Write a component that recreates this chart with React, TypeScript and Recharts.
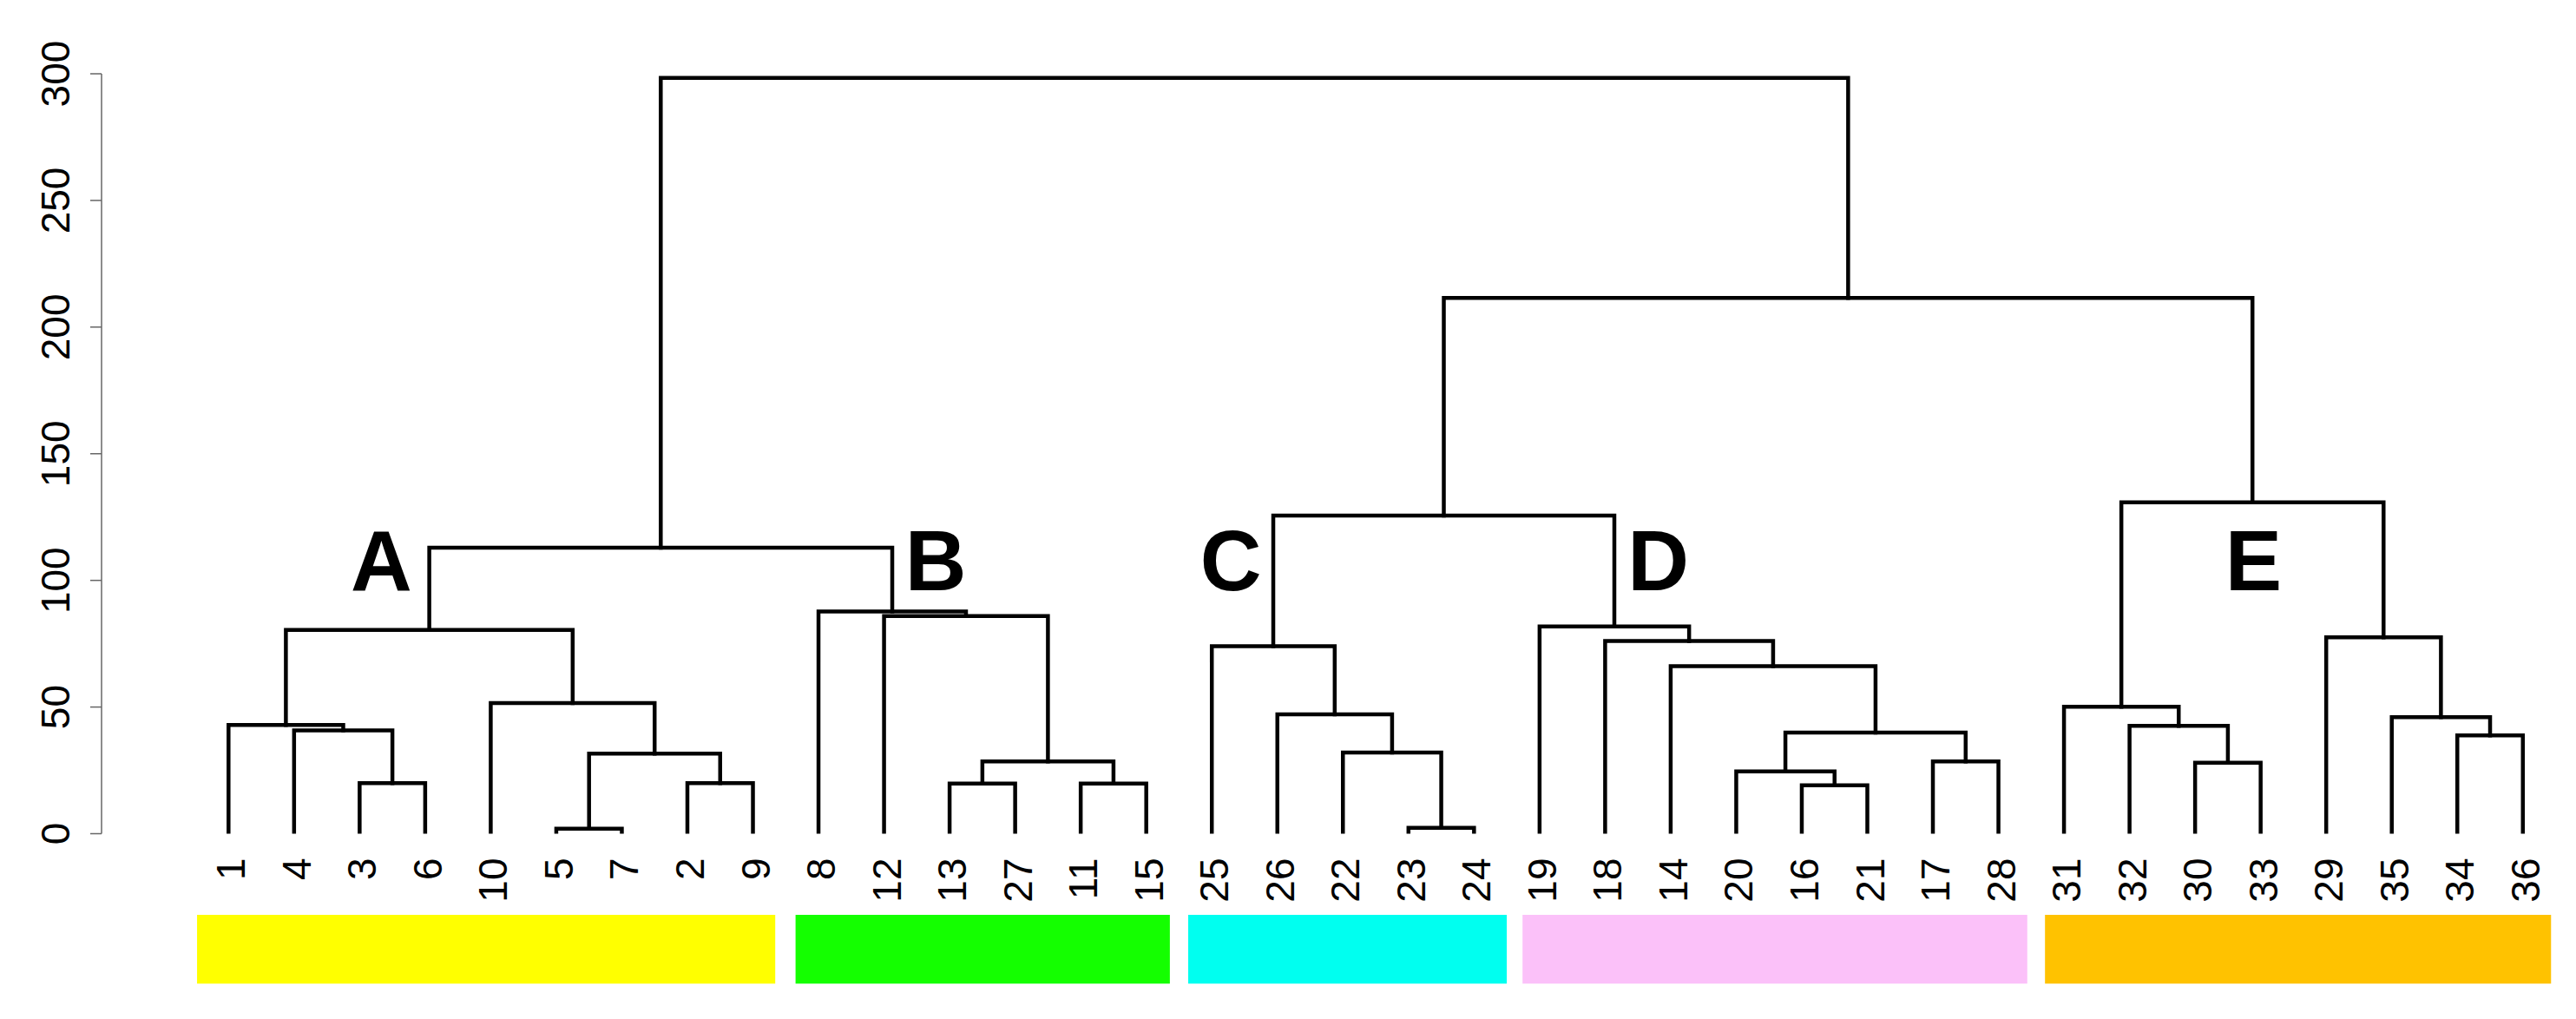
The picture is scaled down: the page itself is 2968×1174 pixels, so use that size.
import React from 'react';
import { ComposedChart, Line, XAxis, YAxis, ReferenceArea, Scatter } from 'recharts';

// leaf order along the x axis (left to right)
const leafOrder = [1, 4, 3, 6, 10, 5, 7, 2, 9, 8, 12, 13, 27, 11, 15, 25, 26, 22, 23, 24, 19, 18, 14, 20, 16, 21, 17, 28, 31, 32, 30, 33, 29, 35, 34, 36];

// hclust-style merge table: negative = leaf label, positive = earlier merge (1-based)
const mergeLeft = [-5, -23, -16, -3, -2, -13, -11, -20, -30, 6, -17, 1, -22, -34, 8, -4, -32, -1, -35, -26, -31, -10, -14, -25, -18, -29, 18, -19, -12, -8, 27, 24, 21, 32, 31];
const mergeRight = [-7, -24, -21, -6, -9, -27, -15, 3, -33, 7, -28, 5, 2, -36, 11, 4, 9, 16, 14, 13, 17, 12, 15, 20, 23, 19, 22, 25, 10, 29, 30, 28, 26, 33, 34];
const mergeHeight = [2.0, 2.3, 19.1, 20.0, 20.0, 19.8, 19.8, 24.6, 28.0, 28.5, 28.5, 31.6, 32.0, 38.8, 39.9, 40.8, 42.6, 42.9, 46.0, 47.1, 50.1, 51.6, 66.1, 74.0, 76.1, 77.5, 80.4, 81.8, 85.9, 87.7, 112.9, 125.6, 130.8, 211.5, 298.4];

const yTicks = [0, 50, 100, 150, 200, 250, 300];

// cluster groups
const groupNames = ['A', 'B', 'C', 'D', 'E'];
const groupColors = ['#FFFF00', '#14FF00', '#00FFF0', '#FBC1F9', '#FFC200'];
const groupStart = [-0.48, 8.65, 14.64, 19.74, 27.71];
const groupEnd = [8.34, 14.36, 19.5, 27.44, 35.43];
const groupLabelX = [2.33, 10.79, 15.29, 21.81, 30.89];
const groupLabelY = [108, 108, 108, 108, 108];
const groupBarTop = -32;
const groupBarBottom = -59.2;

type Pt = { x: number; y: number };

function buildSegments(): Pt[][] {
  const nodes: { x: number; h: number }[] = [];
  const pos = (r: number) => (r < 0 ? leafOrder.indexOf(-r) : nodes[r - 1].x);
  const hgt = (r: number) => (r < 0 ? 0 : nodes[r - 1].h);
  const out: Pt[][] = [];
  for (let i = 0; i < mergeHeight.length; i++) {
    const a = mergeLeft[i];
    const b = mergeRight[i];
    let xa = pos(a), xb = pos(b);
    let ha = hgt(a), hb = hgt(b);
    if (xa > xb) {
      [xa, xb] = [xb, xa];
      [ha, hb] = [hb, ha];
    }
    const h = mergeHeight[i];
    nodes.push({ x: (xa + xb) / 2, h });
    out.push([
      { x: xa, y: ha },
      { x: xa, y: h },
      { x: xb, y: h },
      { x: xb, y: hb },
    ]);
  }
  return out;
}

const segments = buildSegments();
const leafTicks = leafOrder.map((_, i) => i);
const clusterLabels = groupNames.map((n, i) => ({ x: groupLabelX[i], y: groupLabelY[i], name: n }));

const FONT = '"Liberation Sans", Arial, Helvetica, sans-serif';

const YTick = (props: any) => {
  const { x, y, payload } = props;
  const tx = x - 22;
  return (
    <text x={tx} y={y} transform={`rotate(-90 ${tx} ${y})`} textAnchor="middle" fontSize={46} fontFamily={FONT} fill="#000">
      {payload.value}
    </text>
  );
};

const XTick = (props: any) => {
  const { x, y, payload } = props;
  const tx = x + 19;
  const ty = y + 28;
  return (
    <text x={tx} y={ty} transform={`rotate(-90 ${tx} ${ty})`} textAnchor="end" fontSize={46} fontFamily={FONT} fill="#000">
      {leafOrder[payload.value]}
    </text>
  );
};

const LetterShape = (props: any) => {
  const { cx, cy, payload } = props;
  return (
    <text x={cx} y={cy + 35} textAnchor="middle" fontSize={98} fontWeight="bold" fontFamily={FONT} fill="#000">
      {payload.name}
    </text>
  );
};

export default function App() {
  return (
    <div style={{ position: 'absolute', left: 0, top: 0, width: 2968, height: 1174, background: '#fff' }}>
      <ComposedChart width={2968} height={1174} margin={{ top: 85, right: 23, bottom: 113.5, left: 0 }}>
        <XAxis
          type="number"
          dataKey="x"
          domain={[-1.937, 35.506]}
          allowDataOverflow
          ticks={leafTicks}
          interval={0}
          height={100}
          axisLine={false}
          tickLine={false}
          tickSize={0}
          tickMargin={0}
          tick={XTick}
        />
        <YAxis
          type="number"
          dataKey="y"
          domain={[0, 300]}
          allowDataOverflow
          ticks={yTicks}
          interval={0}
          width={117}
          tickSize={13}
          tickMargin={2}
          axisLine={{ stroke: '#666', strokeWidth: 1.5 }}
          tickLine={{ stroke: '#666', strokeWidth: 1.5 }}
          tick={YTick}
        />
        {groupNames.map((n, i) => (
          <ReferenceArea
            key={'g' + n}
            x1={groupStart[i]}
            x2={groupEnd[i]}
            y1={groupBarBottom}
            y2={groupBarTop}
            ifOverflow="visible"
            fill={groupColors[i]}
            fillOpacity={1}
            stroke="none"
          />
        ))}
        {segments.map((pts, i) => (
          <Line
            key={'m' + i}
            data={pts}
            dataKey="y"
            type="linear"
            stroke="#000"
            strokeWidth={4.5}
            strokeLinejoin="miter"
            strokeLinecap="square"
            dot={false}
            activeDot={false}
            isAnimationActive={false}
            legendType="none"
          />
        ))}
        <Scatter data={clusterLabels} dataKey="y" shape={LetterShape} isAnimationActive={false} legendType="none" />
      </ComposedChart>
    </div>
  );
}
